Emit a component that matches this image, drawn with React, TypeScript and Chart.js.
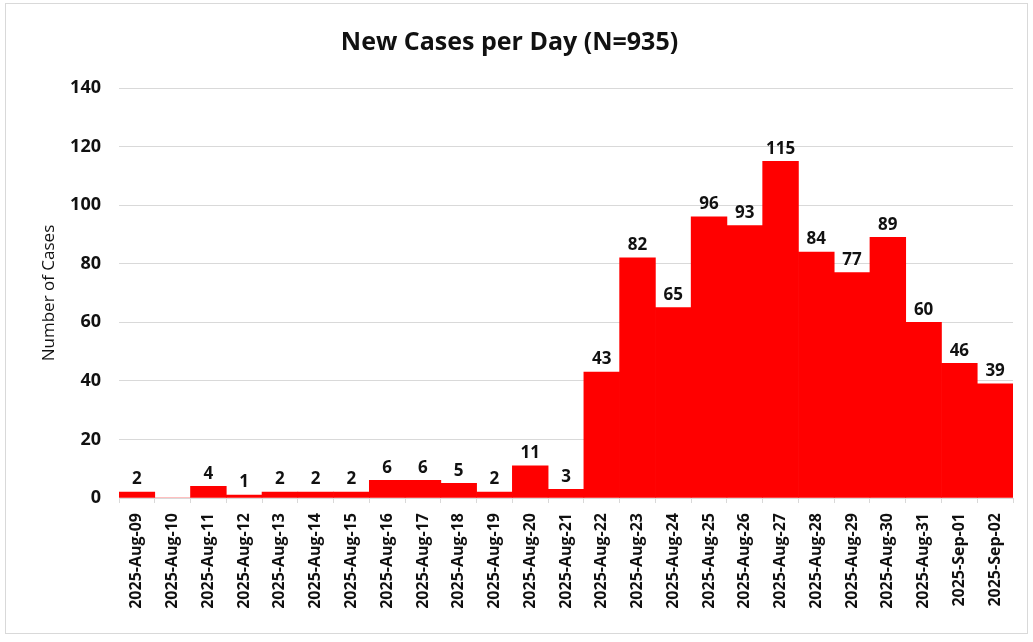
import React, { useEffect, useRef } from "react";
import { Chart, registerables } from "chart.js";

Chart.register(...registerables);

const categories = [
  "2025-Aug-09", "2025-Aug-10", "2025-Aug-11", "2025-Aug-12", "2025-Aug-13",
  "2025-Aug-14", "2025-Aug-15", "2025-Aug-16", "2025-Aug-17", "2025-Aug-18",
  "2025-Aug-19", "2025-Aug-20", "2025-Aug-21", "2025-Aug-22", "2025-Aug-23",
  "2025-Aug-24", "2025-Aug-25", "2025-Aug-26", "2025-Aug-27", "2025-Aug-28",
  "2025-Aug-29", "2025-Aug-30", "2025-Aug-31", "2025-Sep-01", "2025-Sep-02",
];
const newCases = [2, 0, 4, 1, 2, 2, 2, 6, 6, 5, 2, 11, 3, 43, 82, 65, 96, 93, 115, 84, 77, 89, 60, 46, 39];
const yTicks = [0, 20, 40, 60, 80, 100, 120, 140];

const FONT = "'Open Sans', 'Noto Sans', sans-serif";

const valueLabels = {
  id: "valueLabels",
  afterDatasetsDraw(chart: any) {
    const ctx = chart.ctx;
    const meta = chart.getDatasetMeta(0);
    const data = chart.data.datasets[0].data as number[];
    ctx.save();
    ctx.font = `bold 17px ${FONT}`;
    ctx.fillStyle = "#111";
    ctx.textAlign = "center";
    ctx.textBaseline = "bottom";
    meta.data.forEach((el: any, i: number) => {
      const v = data[i];
      if (!v) return;
      ctx.fillText(String(v), el.x, el.y - 4);
    });
    ctx.restore();
  },
};

export default function App() {
  const ref = useRef<HTMLCanvasElement>(null);
  useEffect(() => {
    if (!ref.current) return;
    const chart = new Chart(ref.current, {
      type: "bar",
      data: {
        labels: categories,
        datasets: [
          {
            data: newCases,
            backgroundColor: "#ff0000",
            borderWidth: 0,
            barPercentage: 1,
            categoryPercentage: 1,
          },
        ],
      },
      plugins: [valueLabels],
      options: {
        responsive: false,
        animation: false,
        layout: { padding: { left: 0, right: 14, top: 0, bottom: 0 } },
        plugins: {
          legend: { display: false },
          tooltip: { enabled: false },
          title: {
            display: true,
            text: "New Cases per Day (N=935)",
            color: "#111",
            font: { family: FONT, size: 25, weight: "bold" },
            padding: { top: 24, bottom: 30 },
          },
        },
        scales: {
          x: {
            offset: true,
            grid: {
              display: true,
              drawOnChartArea: false,
              drawTicks: true,
              tickLength: 5,
              color: "#d9d9d9",
              offset: true,
            },
            border: { display: true, color: "#d9d9d9" },
            ticks: {
              color: "#111",
              font: { family: FONT, size: 16, weight: "bold" },
              maxRotation: 90,
              minRotation: 90,
              autoSkip: false,
              padding: 10,
            },
            afterFit(scale: any) {
              scale.height = 135;
            },
          },
          y: {
            min: 0,
            max: 140,
            afterBuildTicks(scale: any) {
              scale.ticks = yTicks.map((v) => ({ value: v }));
            },
            grid: { color: "#d9d9d9", drawTicks: false, lineWidth: 1 },
            border: { display: false },
            ticks: {
              color: "#111",
              font: { family: FONT, size: 18, weight: "bold" },
              padding: 18,
            },
            title: {
              display: true,
              text: "Number of Cases",
              color: "#111",
              font: { family: FONT, size: 17 },
              padding: { top: 33, bottom: 8 },
            },
            afterFit(scale: any) {
              scale.width = 113;
            },
          },
        },
      },
    });
    return () => chart.destroy();
  }, []);
  return (
    <div
      style={{
        position: "absolute",
        left: 5,
        top: 3,
        width: 1021,
        height: 629,
        border: "1px solid #d9d9d9",
        background: "#fff",
      }}
    >
      <canvas ref={ref} width={1021} height={629} style={{ display: "block" }} />
    </div>
  );
}
